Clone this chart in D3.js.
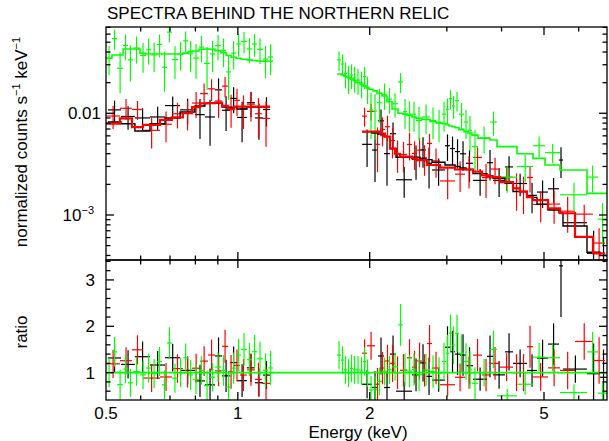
<!DOCTYPE html>
<html>
<head>
<meta charset="utf-8">
<title>Spectra behind the northern relic</title>
<style>
    body { margin: 0; background: #fff; }
    svg { display: block; font-family: "Liberation Sans", Arial, sans-serif; }
</style>
</head>
<body>
<div id="grafico"></div>
<script src="https://d3js.org/d3.v7.min.js"></script>
<script>
    // Bins (keV), data, errors and model for each data group
    const blackLo = [0.505,0.541,0.582,0.630,0.682,0.738,0.798,0.841,0.887,0.920,0.960,0.996,1.049,1.094,1.141,
        1.921,2.024,2.089,2.156,2.225,2.297,2.498,2.605,2.689,2.775,2.971,3.050,3.132,3.215,3.318,3.442,3.705,3.824,4.073,4.248,4.572,4.819,5.106,5.410,5.525,6.268,6.711];
    const blackHi = [0.541,0.582,0.630,0.682,0.738,0.798,0.841,0.887,0.920,0.960,0.996,1.049,1.094,1.141,1.184,
        2.024,2.089,2.156,2.225,2.297,2.498,2.605,2.689,2.775,2.971,3.050,3.132,3.215,3.318,3.442,3.705,3.824,4.073,4.248,4.572,4.819,5.106,5.410,5.525,6.268,6.711,6.963];
    const blackVal = [0.0108,0.0093,0.0090,0.0092,0.0119,0.0108,0.0097,0.0092,0.0170,0.0107,0.0140,0.0091,0.0127,0.0090,0.0109,
        0.00495,0.00435,0.00843,0.00401,0.0063,0.00222,0.00352,0.00436,0.00322,0.00277,0.0048,0.0045,0.0042,0.0040,0.00322,0.00219,0.00327,0.00219,0.00297,0.00204,0.00156,0.00168,0.00181,0.00347,0.00084,0.00042,0.00036];
    const blackErr = [0.0025,0.0024,0.0022,0.0024,0.0027,0.0031,0.0041,0.0044,0.0050,0.0040,0.0040,0.0039,0.0035,0.0035,0.0035,
        0.00198,0.00224,0.00248,0.00207,0.0018,0.00074,0.0013,0.00144,0.0014,0.00083,0.0014,0.0014,0.00135,0.0013,0.00112,0.00064,0.00109,0.00069,0.00082,0.00051,0.00052,0.00051,0.0005,0.00116,0.00023,0.00028,0.00024];
    const blackMod = [0.0082,0.0079,0.0067,0.0079,0.0090,0.0103,0.0118,0.0125,0.0125,0.0115,0.0115,0.0110,0.0115,0.0115,0.0115,
        0.0066,0.0064,0.0062,0.0059,0.0045,0.0037,0.0037,0.0036,0.0035,0.0033,0.0031,0.0031,0.0030,0.0029,0.0028,0.00255,0.00242,0.0023,0.00205,0.0017,0.00149,0.00128,0.00112,0.00105,0.00078,0.00043,0.0004];

    const redLo = [0.500,0.538,0.573,0.607,0.664,0.707,0.749,0.786,0.820,0.855,0.887,0.920,0.950,0.980,1.011,1.049,1.094,1.135,
        1.921,1.972,2.057,2.111,2.167,2.225,2.285,2.345,2.433,2.498,2.565,2.633,2.703,2.775,2.894,3.132,3.301,3.442,3.609,3.764,3.967,4.248,4.407,4.572,4.719,5.106,5.439,5.885,6.469];
    const redHi = [0.538,0.573,0.607,0.664,0.707,0.749,0.786,0.820,0.855,0.887,0.920,0.950,0.980,1.011,1.049,1.094,1.135,1.184,
        1.972,2.057,2.111,2.167,2.225,2.285,2.345,2.433,2.498,2.565,2.633,2.703,2.775,2.894,3.132,3.301,3.442,3.609,3.764,3.967,4.248,4.407,4.572,4.719,5.106,5.439,5.885,6.469,6.890];
    const redVal = [0.0094,0.0112,0.0109,0.0068,0.0078,0.0099,0.0100,0.0126,0.0156,0.0174,0.0132,0.0185,0.0112,0.0134,0.0110,0.0123,0.0099,0.0089,
        0.00937,0.01043,0.00495,0.00693,0.00738,0.0054,0.0040,0.00393,0.00494,0.00403,0.00434,0.00364,0.00505,0.00341,0.00216,0.00252,0.0028,0.00368,0.00233,0.00283,0.00235,0.00183,0.0017,0.00234,0.00127,0.00128,0.00109,0.00102,0.00053];
    const redErr = [0.0024,0.0026,0.0023,0.0023,0.0026,0.0028,0.0032,0.0036,0.0040,0.0042,0.0042,0.0042,0.0040,0.0040,0.0040,0.0040,0.0042,0.0042,
        0.00198,0.00198,0.00231,0.0022,0.00207,0.0018,0.0014,0.00131,0.0015,0.00126,0.00139,0.00121,0.00124,0.00109,0.00073,0.00084,0.00098,0.00093,0.00086,0.00083,0.00063,0.00073,0.00068,0.00068,0.00042,0.00046,0.00042,0.00024,0.00021];
    const redMod = [0.0079,0.0089,0.0073,0.0077,0.0086,0.0091,0.0100,0.0115,0.0125,0.0126,0.0127,0.0118,0.0110,0.0116,0.0116,0.0116,0.0116,0.0116,
        0.0066,0.0066,0.0066,0.0063,0.0059,0.0045,0.0040,0.00374,0.00374,0.0036,0.00347,0.00347,0.0031,0.0031,0.00292,0.0028,0.0028,0.00267,0.00245,0.00236,0.0021,0.00183,0.0017,0.0015,0.0014,0.00116,0.00104,0.00061,0.00042];

    const greenLo = [0.500,0.516,0.530,0.547,0.561,0.576,0.598,0.617,0.634,0.654,0.671,0.689,0.707,0.730,0.750,0.770,0.790,0.815,0.837,0.864,0.887,0.915,0.940,0.965,0.991,1.017,1.049,1.077,1.106,1.141,1.172,
        1.684,1.720,1.747,1.775,1.803,1.832,1.861,1.901,1.931,1.962,1.993,2.035,2.078,2.134,2.190,2.249,2.321,2.383,2.433,2.498,2.551,2.633,2.746,2.834,2.925,2.987,3.034,3.083,3.132,3.198,3.283,3.353,3.424,3.534,3.764,3.905,4.338,4.719,5.026,5.439,6.268,6.641];
    const greenHi = [0.516,0.530,0.547,0.561,0.576,0.598,0.617,0.634,0.654,0.671,0.689,0.707,0.730,0.750,0.770,0.790,0.815,0.837,0.864,0.887,0.915,0.940,0.965,0.991,1.017,1.049,1.077,1.106,1.141,1.172,1.203,
        1.720,1.747,1.775,1.803,1.832,1.861,1.901,1.931,1.962,1.993,2.035,2.078,2.134,2.190,2.249,2.321,2.383,2.433,2.498,2.551,2.633,2.746,2.834,2.925,2.987,3.034,3.083,3.132,3.198,3.283,3.353,3.424,3.534,3.764,3.905,4.338,4.719,5.026,5.439,6.268,6.641,6.963];
    const greenVal = [0.0348,0.0542,0.0277,0.0463,0.0335,0.0438,0.0370,0.0421,0.0375,0.0475,0.0283,0.0628,0.0337,0.0383,0.0515,0.0384,0.0349,0.0447,0.0309,0.0383,0.0463,0.0415,0.0255,0.0390,0.0480,0.0510,0.0429,0.0479,0.0425,0.0341,0.0358,
        0.0335,0.0305,0.0246,0.0223,0.0238,0.0223,0.0212,0.0198,0.0229,0.0176,0.0108,0.0105,0.0127,0.0152,0.0138,0.0124,0.0203,0.0104,0.0098,0.0098,0.0085,0.0092,0.0085,0.0080,0.0098,0.0109,0.0139,0.0118,0.0133,0.0098,0.0082,0.0068,0.0047,0.0057,0.0082,0.00235,0.0030,0.0048,0.0041,0.00158,0.00236,0.00091];
    const greenErr = [0.011,0.012,0.012,0.013,0.013,0.013,0.012,0.012,0.012,0.012,0.012,0.013,0.012,0.012,0.012,0.013,0.013,0.013,0.014,0.013,0.013,0.013,0.012,0.012,0.012,0.012,0.012,0.012,0.012,0.012,0.012,
        0.0073,0.0072,0.0070,0.0068,0.0065,0.0063,0.0060,0.0058,0.0056,0.0053,0.0052,0.0050,0.0047,0.0044,0.0039,0.0033,0.0045,0.0034,0.0033,0.0032,0.0031,0.0030,0.0029,0.0028,0.0032,0.0031,0.0030,0.0030,0.0029,0.0028,0.0026,0.0026,0.0021,0.0017,0.0022,0.0007,0.0009,0.0011,0.0009,0.0005,0.0007,0.0004];
    const greenMod = [0.0348,0.0374,0.0374,0.0429,0.0429,0.0429,0.0389,0.0383,0.0383,0.0383,0.0383,0.0383,0.0383,0.0383,0.0390,0.0404,0.0410,0.0426,0.0429,0.0426,0.0413,0.0395,0.0370,0.0355,0.0348,0.0340,0.0335,0.0330,0.0327,0.0325,0.0325,
        0.0243,0.0240,0.0232,0.0225,0.0218,0.0210,0.0200,0.0192,0.0185,0.0178,0.0172,0.0166,0.0157,0.0148,0.0130,0.0110,0.0100,0.0098,0.0095,0.0092,0.0089,0.0087,0.0083,0.0081,0.0079,0.0077,0.0075,0.0074,0.0072,0.0069,0.0066,0.0064,0.0061,0.0057,0.00546,0.0047,0.0040,0.0036,0.0031,0.00277,0.00163,0.00163];

    // Ticks
    const xMajor = [1, 2, 5];
    const xMinor = [0.6, 0.7, 0.8, 0.9, 3, 4, 6];
    const xLabels = ["0.5", "1", "2", "5"];
    const xLabelVals = [0.5, 1, 2, 5];
    const yMajor = [0.001, 0.01];
    const yMinor = [4e-4, 5e-4, 6e-4, 7e-4, 8e-4, 9e-4, 2e-3, 3e-3, 4e-3, 5e-3, 6e-3, 7e-3, 8e-3, 9e-3, 0.02, 0.03, 0.04, 0.05, 0.06, 0.07];
    const rMajor = [1, 2, 3];
    const rMinor = [0.6, 0.8, 1.2, 1.4, 1.6, 1.8, 2.2, 2.4, 2.6, 2.8, 3.2, 3.4];

    // Layout (panel edges in px)
    const pLeft = 106, pRight = 607, pTop = 27, pMid = 260, pBottom = 400;
    const tMaj = 8, tMin = 4.5;

    const x = d3.scaleLog().domain([0.5, 6.963]).range([pLeft, pRight]);
    const y = d3.scaleLog().domain([3.61e-4, 0.0705]).range([pMid, pTop]);
    const yr = d3.scaleLinear().domain([0.41, 3.43]).range([pBottom, pMid]);

    const svg = d3.select("#grafico").append("svg")
        .attr("width", 609)
        .attr("height", 441);

    const defs = svg.append("defs");
    defs.append("clipPath").attr("id", "clipTop").append("rect")
        .attr("x", pLeft).attr("y", pTop).attr("width", pRight - pLeft).attr("height", pMid - pTop);
    defs.append("clipPath").attr("id", "clipBot").append("rect")
        .attr("x", pLeft).attr("y", pMid).attr("width", pRight - pLeft).attr("height", pBottom - pMid);

    const sets = [
        { color: "#000000", lo: blackLo, hi: blackHi, val: blackVal, err: blackErr, mod: blackMod, lw: 1.4 },
        { color: "#ff0000", lo: redLo, hi: redHi, val: redVal, err: redErr, mod: redMod, lw: 2.2 },
        { color: "#00ff00", lo: greenLo, hi: greenHi, val: greenVal, err: greenErr, mod: greenMod, lw: 1.6 }
    ].map(s => ({
        color: s.color, lw: s.lw,
        pts: s.lo.map((lo, i) => ({ lo, hi: s.hi[i], v: s.val[i], e: s.err[i], m: s.mod[i] }))
    }));

    const gTop = svg.append("g").attr("clip-path", "url(#clipTop)");
    const gBot = svg.append("g").attr("clip-path", "url(#clipBot)");

    // Error crosses (data) in both panels
    sets.forEach(s => {
        const ct = gTop.append("g").attr("stroke", s.color).attr("stroke-width", 1.2);
        ct.selectAll("line.h").data(s.pts).join("line").attr("class", "h")
            .attr("x1", d => x(d.lo)).attr("x2", d => x(d.hi))
            .attr("y1", d => y(d.v)).attr("y2", d => y(d.v));
        ct.selectAll("line.v").data(s.pts).join("line").attr("class", "v")
            .attr("x1", d => x((d.lo + d.hi) / 2)).attr("x2", d => x((d.lo + d.hi) / 2))
            .attr("y1", d => y(Math.max(d.v - d.e, 1e-6))).attr("y2", d => y(d.v + d.e));

        const cb = gBot.append("g").attr("stroke", s.color).attr("stroke-width", 1.2);
        cb.selectAll("line.h").data(s.pts).join("line").attr("class", "h")
            .attr("x1", d => x(d.lo)).attr("x2", d => x(d.hi))
            .attr("y1", d => yr(d.v / d.m)).attr("y2", d => yr(d.v / d.m));
        cb.selectAll("line.v").data(s.pts).join("line").attr("class", "v")
            .attr("x1", d => x((d.lo + d.hi) / 2)).attr("x2", d => x((d.lo + d.hi) / 2))
            .attr("y1", d => yr((d.v - d.e) / d.m)).attr("y2", d => yr((d.v + d.e) / d.m));
    });

    // Model histograms
    const stepPath = pts => {
        let p = "";
        pts.forEach((d, i) => {
            const prev = pts[i - 1];
            if (!prev || Math.abs(prev.hi - d.lo) > 0.002) p += `M${x(d.lo)},${y(d.m)}`;
            else p += `V${y(d.m)}`;
            p += `H${x(d.hi)}`;
        });
        return p;
    };
    sets.forEach(s => {
        gTop.append("path")
            .attr("d", stepPath(s.pts))
            .attr("fill", "none")
            .attr("stroke", s.color)
            .attr("stroke-width", s.lw);
    });

    // Ratio = 1
    gBot.append("line")
        .attr("x1", pLeft).attr("x2", pRight)
        .attr("y1", yr(1)).attr("y2", yr(1))
        .attr("stroke", "#00ff00").attr("stroke-width", 1.6);

    // Frames
    const axes = svg.append("g").attr("stroke", "#000").attr("stroke-width", 1.3).attr("fill", "none");
    axes.append("rect").attr("x", pLeft).attr("y", pTop).attr("width", pRight - pLeft).attr("height", pMid - pTop);
    axes.append("rect").attr("x", pLeft).attr("y", pMid).attr("width", pRight - pLeft).attr("height", pBottom - pMid);

    // Ticks
    const xt = [...xMajor.map(v => [v, tMaj]), ...xMinor.map(v => [v, tMin])];
    xt.forEach(([v, len]) => {
        const px = x(v);
        axes.append("line").attr("x1", px).attr("x2", px).attr("y1", pTop).attr("y2", pTop + len);
        axes.append("line").attr("x1", px).attr("x2", px).attr("y1", pMid - len).attr("y2", pMid + len);
        axes.append("line").attr("x1", px).attr("x2", px).attr("y1", pBottom - len).attr("y2", pBottom);
    });
    const yt = [...yMajor.map(v => [y(v), tMaj]), ...yMinor.map(v => [y(v), tMin]),
                ...rMajor.map(v => [yr(v), tMaj]), ...rMinor.map(v => [yr(v), tMin])];
    yt.forEach(([py, len]) => {
        axes.append("line").attr("x1", pLeft).attr("x2", pLeft + len).attr("y1", py).attr("y2", py);
        axes.append("line").attr("x1", pRight - len).attr("x2", pRight).attr("y1", py).attr("y2", py);
    });

    // Tick labels
    const txt = svg.append("g").attr("fill", "#000").style("font-size", "17px");
    txt.selectAll("text.xl").data(xLabelVals).join("text").attr("class", "xl")
        .attr("x", d => x(d)).attr("y", 419)
        .attr("text-anchor", "middle")
        .text((d, i) => xLabels[i]);

    txt.append("text").attr("x", 101).attr("y", y(0.01) + 6)
        .attr("text-anchor", "end").text("0.01");
    const t3 = txt.append("text").attr("x", 94).attr("y", y(0.001) + 6).attr("text-anchor", "end");
    t3.append("tspan").text("10");
    t3.append("tspan").attr("dy", -7).style("font-size", "11px").text("\u22123");

    txt.selectAll("text.rl").data(rMajor).join("text").attr("class", "rl")
        .attr("x", 95).attr("y", d => yr(d) + 6)
        .attr("text-anchor", "end")
        .text(d => d);

    // Title and axis titles
    txt.append("text").attr("x", 107).attr("y", 19).text("SPECTRA BEHIND THE NORTHERN RELIC");
    txt.append("text").attr("x", 358).attr("y", 438).attr("text-anchor", "middle").text("Energy (keV)");

    const yl = txt.append("text")
        .attr("transform", "translate(27,142) rotate(-90)")
        .attr("text-anchor", "middle");
    yl.append("tspan").text("normalized counts s");
    yl.append("tspan").attr("dy", -7).style("font-size", "11px").text("\u22121");
    yl.append("tspan").attr("dy", 7).text(" keV");
    yl.append("tspan").attr("dy", -7).style("font-size", "11px").text("\u22121");

    txt.append("text")
        .attr("transform", "translate(27,332) rotate(-90)")
        .attr("text-anchor", "middle")
        .text("ratio");
</script>
</body>
</html>
